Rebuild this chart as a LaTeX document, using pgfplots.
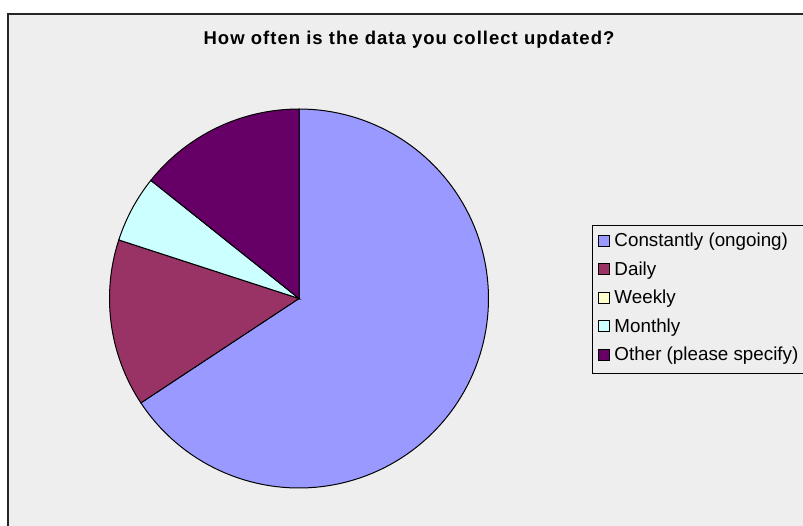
\documentclass[border=0pt]{standalone}
\usepackage{pgfplots}
\pgfplotsset{compat=1.18}
\usepackage{fontspec}
\setmainfont{Liberation Sans}
\newfontfamily\titlefont[LetterSpace=5.5]{Liberation Sans}
\definecolor{cA}{HTML}{9999FF}
\definecolor{cB}{HTML}{993366}
\definecolor{cC}{HTML}{FFFFCC}
\definecolor{cD}{HTML}{CCFFFF}
\definecolor{cE}{HTML}{660066}
\definecolor{bg}{HTML}{EEEEEE}
% counts: Constantly, Daily, Weekly, Monthly, Other
\def\vA{23}\def\vB{5}\def\vC{0}\def\vD{2}\def\vE{5}
\begin{document}
\begin{tikzpicture}[x=1pt,y=1pt]
\useasboundingbox (0,0) rectangle (803,525);
\fill[white] (0,0) rectangle (803,525);
\draw[fill=bg, draw=black!85, line width=1.3pt] (8,511) rectangle (830,-20);
\node[font=\titlefont\bfseries\fontsize{18.5}{20}\selectfont, anchor=base, inner sep=0pt] at (409,480) {How often is the data you collect updated?};
\draw[fill=bg, draw=black, line width=0.8pt] (592,300) rectangle (840,152);
\pgfmathsetmacro{\tot}{\vA+\vB+\vC+\vD+\vE}
\pgfmathsetmacro{\aA}{90-360*\vA/\tot}
\pgfmathsetmacro{\aB}{\aA-360*\vB/\tot}
\pgfmathsetmacro{\aC}{\aB-360*\vC/\tot}
\pgfmathsetmacro{\aD}{\aC-360*\vD/\tot}
\pgfmathsetmacro{\aE}{\aD-360*\vE/\tot}
\begin{axis}[
  at={(299pt,226.5pt)}, anchor=origin,
  scale only axis, width=379pt, height=379pt,
  xmin=-1, xmax=1, ymin=-1, ymax=1,
  hide axis, clip=false,
  area legend,
  legend image code/.code={\draw[#1, draw=black, line width=0.8pt] (0pt,-5.5pt) rectangle (11pt,5.5pt);},
  legend cell align=left,
  legend style={at={(rel axis cs:1.2889,0.6755)}, anchor=north west,
    draw=none, fill=none,
    font=\fontsize{18.8}{20}\selectfont,
    row sep=11.4pt, inner sep=0pt,
    nodes={inner xsep=2pt, inner ysep=1pt},
    /tikz/every odd column/.append style={column sep=2.5pt}},
]
\addplot[fill=cA, draw=black, line width=1pt, domain=\aA:90, samples=120, forget plot] ({cos(x)},{sin(x)}) -- (axis cs:0,0) -- cycle;
\addplot[fill=cB, draw=black, line width=1pt, domain=\aB:\aA, samples=40, forget plot] ({cos(x)},{sin(x)}) -- (axis cs:0,0) -- cycle;
\addplot[fill=cD, draw=black, line width=1pt, domain=\aD:\aC, samples=20, forget plot] ({cos(x)},{sin(x)}) -- (axis cs:0,0) -- cycle;
\addplot[fill=cE, draw=black, line width=1pt, domain=\aE:\aD, samples=40, forget plot] ({cos(x)},{sin(x)}) -- (axis cs:0,0) -- cycle;
\addlegendimage{fill=cA}
\addlegendimage{fill=cB}
\addlegendimage{fill=cC}
\addlegendimage{fill=cD}
\addlegendimage{fill=cE}
\legend{Constantly (ongoing), Daily, Weekly, Monthly, Other (please specify)}
\end{axis}
\end{tikzpicture}
\end{document}
